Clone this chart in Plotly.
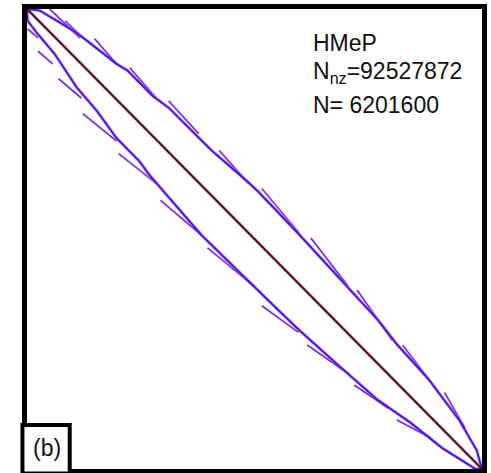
import plotly.graph_objects as go

# ---- data (matrix indices in millions) ----
N_TOTAL = 6201600
N_NZ = 92527872
MATRIX_NAME = "HMeP"
PANEL_LABEL = "(b)"
N_M = N_TOTAL / 1e6

diag_cols = [0.0, N_M]
diag_rows = [0.0, N_M]

upper_cols = [0.00, 0.17, 0.41, 0.69, 0.82, 1.22, 1.37, 1.71, 1.93, 2.34, 2.52, 3.02, 3.16,
              3.70, 4.42, 4.79, 5.05, 5.48, 5.89, 6.13, 6.20]
upper_rows = [0.00, 0.02, 0.16, 0.33, 0.43, 0.74, 0.83, 1.17, 1.33, 1.74, 1.91, 2.34, 2.47,
              3.03, 3.80, 4.20, 4.53, 5.00, 5.54, 5.95, 6.20]

lower_cols = [0.00, 0.01, 0.14, 0.38, 0.68, 0.95, 1.22, 1.53, 1.67, 1.93, 2.38, 3.29, 3.70,
              4.24, 4.78, 5.23, 5.66, 6.11, 6.20]
lower_rows = [0.00, 0.16, 0.33, 0.61, 1.06, 1.37, 1.74, 2.05, 2.24, 2.54, 3.05, 3.93, 4.32,
              4.80, 5.27, 5.58, 5.92, 6.20, 6.20]

# fork segments: start (col,row) -> end (col,row)
upper_fork_c0 = [0.31, 0.52, 0.92, 1.40, 1.93, 2.62, 3.20, 3.87, 4.50, 5.12, 5.69]
upper_fork_r0 = [0.00, 0.16, 0.40, 0.79, 1.24, 1.91, 2.42, 3.09, 3.79, 4.53, 5.17]
upper_fork_c1 = [0.72, 0.76, 1.22, 1.76, 2.34, 3.02, 3.70, 4.37, 4.98, 5.48, 5.97]
upper_fork_r1 = [0.39, 0.39, 0.74, 1.20, 1.68, 2.35, 3.01, 3.73, 4.47, 5.00, 5.65]

lower_fork_c0 = [0.01, 0.15, 0.43, 0.76, 1.25, 1.82, 2.46, 3.20, 3.82, 4.46, 5.04]
lower_fork_r0 = [0.27, 0.57, 0.94, 1.41, 1.95, 2.58, 3.22, 4.00, 4.53, 5.07, 5.54]
lower_fork_c1 = [0.15, 0.35, 0.74, 1.22, 1.76, 2.38, 3.11, 3.70, 4.31, 4.92, 5.50]
lower_fork_r1 = [0.39, 0.74, 1.20, 1.78, 2.35, 3.05, 3.75, 4.36, 4.87, 5.38, 5.78]


def segs(c0, r0, c1, r1):
    xs, ys = [], []
    for a, b, c, d in zip(c0, r0, c1, r1):
        xs += [a, c, None]
        ys += [b, d, None]
    return xs, ys


fig = go.Figure()

BLUE = "#3c1ee0"
HALO = "rgba(225,90,210,0.45)"

uf_x, uf_y = segs(upper_fork_c0, upper_fork_r0, upper_fork_c1, upper_fork_r1)
lf_x, lf_y = segs(lower_fork_c0, lower_fork_r0, lower_fork_c1, lower_fork_r1)

for xs, ys, w in [(uf_x, uf_y, 1.1), (lf_x, lf_y, 1.1),
                  (upper_cols, upper_rows, 2.0), (lower_cols, lower_rows, 2.0)]:
    fig.add_trace(go.Scatter(x=xs, y=ys, mode="lines", line=dict(color=HALO, width=w + 1.6),
                             hoverinfo="skip", showlegend=False))
    fig.add_trace(go.Scatter(x=xs, y=ys, mode="lines", line=dict(color=BLUE, width=w),
                             hoverinfo="skip", showlegend=False))

fig.add_trace(go.Scatter(x=diag_cols, y=diag_rows, mode="lines",
                         line=dict(color="rgba(200,40,60,0.5)", width=3.2),
                         hoverinfo="skip", showlegend=False))
fig.add_trace(go.Scatter(x=diag_cols, y=diag_rows, mode="lines",
                         line=dict(color="#3a0c2c", width=1.8),
                         hoverinfo="skip", showlegend=False))

axis_common = dict(showgrid=False, zeroline=False, showticklabels=False, ticks="",
                   showline=True, mirror=True, linecolor="black", linewidth=4.5)
fig.update_xaxes(range=[0, N_M], **axis_common)
fig.update_yaxes(range=[N_M, 0], **axis_common)

FONT = "Liberation Sans, Arial, sans-serif"
TXT = "#111111"
fig.add_annotation(x=0.624, y=1 - (42 - 8) / 461, xref="paper", yref="paper",
                   xanchor="left", yanchor="middle", showarrow=False,
                   text=MATRIX_NAME, font=dict(family=FONT, size=23, color=TXT))
fig.add_annotation(x=0.624, y=1 - (72 - 8) / 461, xref="paper", yref="paper",
                   xanchor="left", yanchor="middle", showarrow=False,
                   text=f"N<sub>nz</sub>={N_NZ}", font=dict(family=FONT, size=23, color=TXT))
fig.add_annotation(x=0.624, y=1 - (104 - 8) / 461, xref="paper", yref="paper",
                   xanchor="left", yanchor="middle", showarrow=False,
                   text=f"N= {N_TOTAL}", font=dict(family=FONT, size=23, color=TXT))

# panel label box
fig.add_shape(type="rect", xref="paper", yref="paper",
              x0=-0.01, y0=-0.01, x1=(70 - 27) / 458, y1=(469 - 425) / 461,
              line=dict(color="black", width=4), fillcolor="white", layer="above")
fig.add_annotation(x=(47 - 27) / 458, y=(469 - 448) / 461, xref="paper", yref="paper",
                   xanchor="center", yanchor="middle", showarrow=False,
                   text=PANEL_LABEL, font=dict(family=FONT, size=23, color=TXT))

fig.update_layout(width=491, height=473, autosize=False,
                  margin=dict(l=27, r=6, t=8, b=4),
                  paper_bgcolor="white", plot_bgcolor="white")

fig.write_html("out.html", config={"displayModeBar": False},
               post_script="document.body.style.margin='0px';document.body.style.padding='0px';document.body.style.overflow='hidden';")
